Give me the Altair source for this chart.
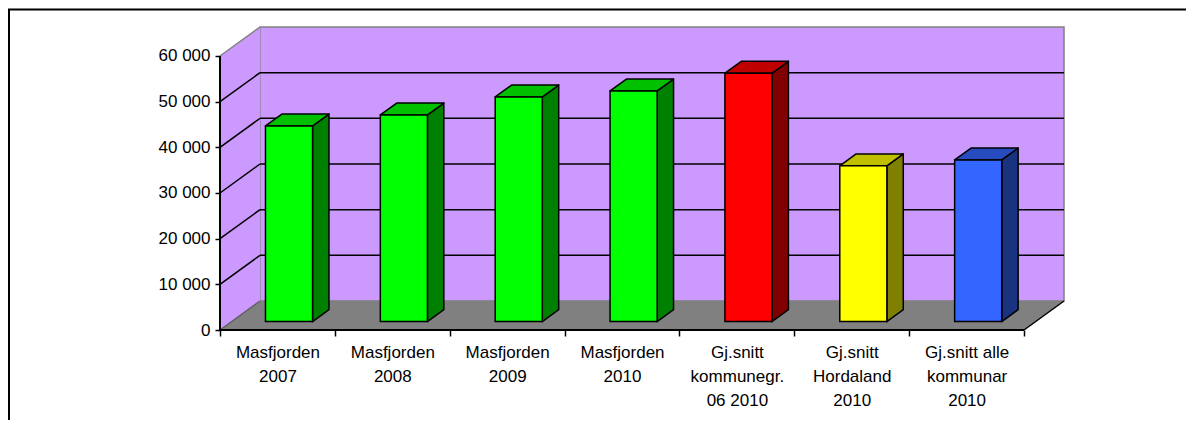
import json
import altair as alt
import pandas as pd

# ---------------- data ----------------
categories = [
    "Masfjorden\n2007",
    "Masfjorden\n2008",
    "Masfjorden\n2009",
    "Masfjorden\n2010",
    "Gj.snitt\nkommunegr.\n06 2010",
    "Gj.snitt\nHordaland\n2010",
    "Gj.snitt alle\nkommunar\n2010",
]
values = [42850, 45250, 49200, 50500, 54400, 34100, 35400]
front_colors = ["#00FF00", "#00FF00", "#00FF00", "#00FF00", "#FF0000", "#FFFF00", "#3366FF"]
side_colors = ["#008000", "#008000", "#008000", "#008000", "#800000", "#808000", "#1A3380"]
top_colors = ["#00C000", "#00C000", "#00C000", "#00C000", "#C00000", "#C0C000", "#264CBF"]
y_ticks = [0, 10000, 20000, 30000, 40000, 50000, 60000]

# ---------------- oblique projection parameters ----------------
N = len(categories)
YMAX = y_ticks[-1]
DX = 40 / 114.9      # depth of the box, in category units
DY = 6350            # depth of the box, in value units
BAR_W = 0.41         # bar width as a fraction of a category
D0, D1 = 0.29, 0.70  # bar front / back position in depth fraction
FONT = "Liberation Sans, Arial, sans-serif"

xscale = alt.Scale(domain=[0, N + DX], nice=False, zero=False)
yscale = alt.Scale(domain=[0, YMAX + DY], nice=False, zero=False)

label_lists = json.dumps([c.split("\n") for c in categories])
XAXIS = alt.Axis(
    values=list(range(N + 1)),
    labelExpr=f"datum.value < {N} ? {label_lists}[datum.value] : ''",
    labelOffset=114.9 / 2,
    labelAlign="center",
    labelBaseline="top",
    labelLineHeight=24,
    labelFontSize=17,
    labelPadding=8,
    labelFlush=False,
    labelOverlap=False,
    labelBound=False,
    labelColor="black",
    labelFont=FONT,
    tickSize=6,
    tickWidth=1.5,
    tickColor="black",
    domain=False,
    grid=False,
    title=None,
)
YAXIS = alt.Axis(
    values=y_ticks,
    labelExpr="replace(format(datum.value, ','), ',', ' ')",
    labelFontSize=17,
    labelPadding=5,
    labelColor="black",
    labelFont=FONT,
    tickSize=5,
    tickWidth=1.5,
    tickColor="black",
    domain=False,
    grid=False,
    title=None,
)


def X(f):
    return alt.X(f, type="quantitative", scale=xscale, axis=XAXIS)


def Y(f):
    return alt.Y(f, type="quantitative", scale=yscale, axis=YAXIS)


# ---------------- walls & floor ----------------
back_wall = pd.DataFrame([{"x": DX, "x2": N + DX, "y": DY, "y2": YMAX + DY}])
side_wall = pd.DataFrame([
    {"x": 0, "top": YMAX, "bot": 0},
    {"x": DX, "top": YMAX + DY, "bot": DY},
])
floor = pd.DataFrame([
    {"y": 0, "xa": 0, "xb": N},
    {"y": DY, "xa": DX, "xb": N + DX},
])

rules = []
for v in y_ticks[1:-1]:
    rules.append({"x": DX, "x2": N + DX, "y": v + DY, "y2": v + DY, "c": "black"})
    rules.append({"x": 0, "x2": DX, "y": v, "y2": v + DY, "c": "black"})
rules.append({"x": 0, "x2": DX, "y": YMAX, "y2": YMAX + DY, "c": "#808080"})
rules.append({"x": 0, "x2": DX, "y": 0, "y2": DY, "c": "#606060"})
rules.append({"x": N, "x2": N + DX, "y": 0, "y2": DY, "c": "black"})
rules = pd.DataFrame(rules)

front_edges = pd.DataFrame([
    {"x": 0, "x2": 0, "y": 0, "y2": YMAX},
    {"x": 0, "x2": N, "y": 0, "y2": 0},
])

# ---------------- bars (three faces each) ----------------
front_rows, side_rows, top_rows = [], [], []
for i, v in enumerate(values):
    xl = i + (1 - BAR_W) / 2 + D0 * DX
    xr = xl + BAR_W
    ddx = (D1 - D0) * DX
    front_rows.append({"id": i, "x": xl, "x2": xr, "y": D0 * DY, "y2": v + D0 * DY,
                       "c": front_colors[i]})
    side_rows.append({"id": i, "x": xr, "top": v + D0 * DY, "bot": D0 * DY, "c": side_colors[i]})
    side_rows.append({"id": i, "x": xr + ddx, "top": v + D1 * DY, "bot": D1 * DY, "c": side_colors[i]})
    top_rows.append({"id": i, "y": v + D0 * DY, "xa": xl, "xb": xr, "c": top_colors[i]})
    top_rows.append({"id": i, "y": v + D1 * DY, "xa": xl + ddx, "xb": xr + ddx, "c": top_colors[i]})
front_df = pd.DataFrame(front_rows)
side_df = pd.DataFrame(side_rows)
top_df = pd.DataFrame(top_rows)

# ---------------- layers ----------------
l_back = alt.Chart(back_wall).mark_rect(fill="#CC99FF", stroke="#808080", strokeWidth=1.5).encode(
    x=X("x"), x2="x2", y=Y("y"), y2="y2")
l_side = alt.Chart(side_wall).mark_area(fill="#CC99FF", stroke="#CC99FF", strokeWidth=0.5).encode(
    x=X("x"), y=Y("top"), y2="bot")
l_floor = alt.Chart(floor).mark_area(orient="horizontal", fill="#808080", stroke="#808080",
                                     strokeWidth=0.5).encode(
    y=Y("y"), x=X("xa"), x2="xb")
l_rules = alt.Chart(rules).mark_rule(strokeWidth=1.5).encode(
    x=X("x"), x2="x2", y=Y("y"), y2="y2", color=alt.Color("c:N", scale=None))
l_front = alt.Chart(front_df).mark_rect(stroke="black", strokeWidth=1.5).encode(
    x=X("x"), x2="x2", y=Y("y"), y2="y2", fill=alt.Fill("c:N", scale=None))
l_sidef = alt.Chart(side_df).mark_area(stroke="black", strokeWidth=1.5, strokeJoin="round").encode(
    x=X("x"), y=Y("top"), y2="bot", detail="id:N", fill=alt.Fill("c:N", scale=None))
l_topf = alt.Chart(top_df).mark_area(orient="horizontal", stroke="black", strokeWidth=1.5,
                                     strokeJoin="round").encode(
    y=Y("y"), x=X("xa"), x2="xb", detail="id:N", fill=alt.Fill("c:N", scale=None))
l_edges = alt.Chart(front_edges).mark_rule(strokeWidth=2, color="black").encode(
    x=X("x"), x2="x2", y=Y("y"), y2="y2")
l_frame = alt.Chart(pd.DataFrame([{"k": 0}])).mark_rect(
    fillOpacity=0, stroke="black", strokeWidth=2).encode(
    x=alt.value(-211), x2=alt.value(1100), y=alt.value(-17.5), y2=alt.value(600))

chart = alt.layer(
    l_back, l_side, l_floor, l_rules, l_sidef, l_topf, l_front, l_edges, l_frame
).properties(
    width=844,
    height=303,
    autosize=alt.AutoSizeParams(type="none"),
    padding={"left": 212, "top": 19, "right": 122, "bottom": 90},
).configure_view(strokeWidth=0)

chart.save("out.html", embed_options={"renderer": "svg", "actions": False})
